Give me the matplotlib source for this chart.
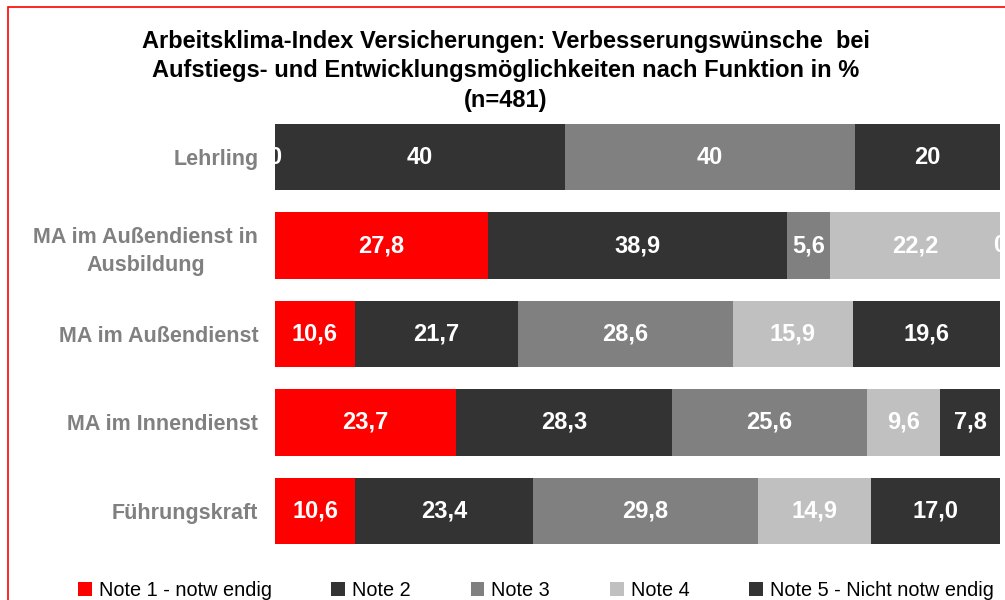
import numpy as np
import matplotlib
matplotlib.use("Agg")
import matplotlib.pyplot as plt
from matplotlib.patches import Rectangle

plt.rcParams['font.family'] = ['Liberation Sans', 'DejaVu Sans']

# data (percent, per row not summing to 100 -> shown as 100% stacked)
categories = ['Lehrling', 'MA im Außendienst in\nAusbildung', 'MA im Außendienst',
              'MA im Innendienst', 'Führungskraft']
series_names = ['Note 1 - notw endig', 'Note 2', 'Note 3', 'Note 4',
                'Note 5 - Nicht notw endig']
note1 = [0, 27.8, 10.6, 23.7, 10.6]
note2 = [40, 38.9, 21.7, 28.3, 23.4]
note3 = [40, 5.6, 28.6, 25.6, 29.8]
note4 = [np.nan, 22.2, 15.9, 9.6, 14.9]
note5 = [20, 0, 19.6, 7.8, 17.0]
row_decimals = [0, 1, 1, 1, 1]
colors = ['#FF0000', '#333333', '#808080', '#C0C0C0', '#333333']

series = [note1, note2, note3, note4, note5]
vals = np.array(series, dtype=float)
totals = np.nansum(vals, axis=0)
shares = np.nan_to_num(vals) / totals * 100

fig = plt.figure(figsize=(10.05, 6), dpi=100)
W, H = 1005, 600
ax = fig.add_axes([275 / W, 1 - 555 / H, 725 / W, 442 / H])

# red chart frame (right and bottom outside the picture)
fig.patches.append(Rectangle((8 / W, -0.1), 1.2, 1 - 7 / H + 0.1, transform=fig.transFigure,
                             fill=False, edgecolor='#FF0000', linewidth=1.2))

y = np.arange(len(categories))
left = np.zeros(len(categories))
handles = []
for i, name in enumerate(series_names):
    b = ax.barh(y, shares[i], left=left, height=0.75, color=colors[i], label=name)
    handles.append(b)
    for j in range(len(categories)):
        v = vals[i, j]
        if np.isnan(v):
            continue
        txt = '0' if v == 0 else f"{v:.{row_decimals[j]}f}".replace('.', ',')
        ax.text(left[j] + shares[i, j] / 2, y[j], txt, ha='center', va='center',
                color='white', fontsize=17, fontweight='bold', clip_on=False)
    left += shares[i]

ax.set_xlim(0, 100)
ax.set_ylim(len(categories) - 0.5, -0.5)
ax.set_yticks(y)
ax.set_yticklabels(categories, fontsize=15.5, fontweight='bold', color='#808080',
                   multialignment='center')
for lab in ax.get_yticklabels():
    lab.set_linespacing(1.4)
ax.tick_params(axis='y', length=0, pad=12)
ax.set_xticks([])
for s in ax.spines.values():
    s.set_visible(False)

fig.text(0.503, 1 - 71 / H, 'Arbeitsklima-Index Versicherungen: Verbesserungswünsche  bei\n'
         'Aufstiegs- und Entwicklungsmöglichkeiten nach Funktion in %\n(n=481)',
         ha='center', va='center', fontsize=17, fontweight='bold', linespacing=1.37)

fig.legend(handles=handles, loc='center left', bbox_to_anchor=(78 / W, 1 - 590 / H),
           ncol=5, frameon=False, fontsize=14.3, handlelength=0.7, handleheight=0.7,
           handletextpad=0.35, columnspacing=3.0, borderaxespad=0, borderpad=0)

fig.savefig('out.png', dpi=100)
